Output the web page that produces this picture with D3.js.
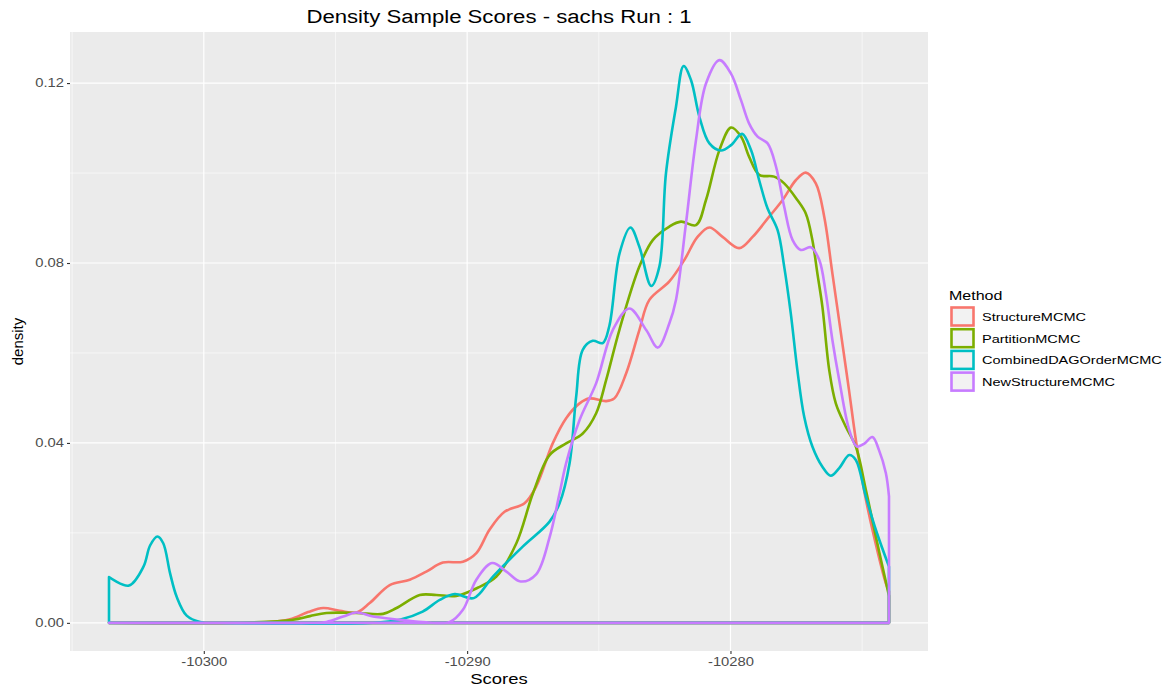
<!DOCTYPE html>
<html>
<head>
<meta charset="utf-8">
<script src="https://cdn.jsdelivr.net/npm/d3@7"></script>
<style>
  body { margin: 0; background: #fff; }
  text { font-family: "Liberation Sans", Arial, sans-serif; }
</style>
</head>
<body>
<div id="chart"></div>
<script>
// Density estimates, [score, density]
const structureMCMC = [
  [-10303.6, 0], [-10299.0, 0], [-10297.74, 0.0001], [-10296.73, 0.0008], [-10296.04, 0.0024],
  [-10295.47, 0.0033], [-10294.84, 0.0027], [-10294.2, 0.0023], [-10293.7, 0.0044], [-10292.94, 0.0084],
  [-10292.18, 0.0096], [-10291.55, 0.0114], [-10290.92, 0.0134], [-10290.16, 0.0136], [-10289.65, 0.0155],
  [-10289.15, 0.0207], [-10288.58, 0.0247], [-10287.82, 0.0266], [-10287.38, 0.0303], [-10286.75, 0.0399],
  [-10286.24, 0.0455], [-10285.73, 0.0488], [-10285.35, 0.0499], [-10284.72, 0.0493], [-10284.41, 0.0499],
  [-10283.96, 0.0555], [-10283.46, 0.0651], [-10283.08, 0.0718], [-10282.32, 0.0759], [-10281.75, 0.0807],
  [-10281.25, 0.0858], [-10280.8, 0.0879], [-10280.3, 0.0858], [-10279.67, 0.0833], [-10279.16, 0.0858],
  [-10278.53, 0.0903], [-10278.02, 0.094], [-10277.52, 0.0984], [-10277.14, 0.1001], [-10276.76, 0.0977],
  [-10276.44, 0.0903], [-10276.13, 0.0777], [-10275.77, 0.0629], [-10275.5, 0.0518], [-10275.24, 0.0407],
  [-10274.93, 0.0296], [-10274.55, 0.0192], [-10274.1, 0.0088], [-10273.98, 0.007]
];

const partitionMCMC = [
  [-10303.6, 0], [-10298.6, 0], [-10296.61, 0.0007], [-10295.97, 0.0015], [-10295.34, 0.0022],
  [-10294.2, 0.0022], [-10293.19, 0.002], [-10292.68, 0.0033], [-10291.8, 0.0062], [-10291.17, 0.0062],
  [-10290.41, 0.006], [-10289.6, 0.0078], [-10288.89, 0.0103], [-10288.13, 0.0177], [-10287.5, 0.0288],
  [-10286.87, 0.0373], [-10286.24, 0.0399], [-10285.61, 0.0421], [-10285.1, 0.0466], [-10284.72, 0.054],
  [-10284.22, 0.0651], [-10283.46, 0.0792], [-10282.95, 0.0851], [-10282.32, 0.0881], [-10281.88, 0.0892],
  [-10281.31, 0.0884], [-10280.93, 0.094], [-10280.42, 0.1051], [-10279.98, 0.1101], [-10279.6, 0.1081],
  [-10279.29, 0.1036], [-10278.91, 0.0996], [-10278.34, 0.0992], [-10277.96, 0.0977], [-10277.46, 0.094],
  [-10277.14, 0.091], [-10276.89, 0.0851], [-10276.7, 0.0777], [-10276.51, 0.0703], [-10276.25, 0.0562],
  [-10276.0, 0.0488], [-10275.62, 0.0436], [-10275.24, 0.0392], [-10274.86, 0.0296], [-10274.48, 0.0192],
  [-10273.98, 0.006]
];

const combinedDAGOrderMCMC = [
  [-10303.6, 0.0102], [-10302.84, 0.0083], [-10302.29, 0.0125], [-10302.04, 0.0172], [-10301.76, 0.0192],
  [-10301.54, 0.0177], [-10301.28, 0.011], [-10301.03, 0.0058], [-10300.65, 0.0016], [-10300.14, 0.0002],
  [-10299.4, 0], [-10293.6, 0],
  [-10292.56, 0.0007], [-10291.69, 0.0025], [-10291.04, 0.0051], [-10290.47, 0.0064], [-10289.75, 0.0055],
  [-10289.02, 0.0103], [-10287.88, 0.017], [-10286.87, 0.0225], [-10286.49, 0.0266], [-10286.11, 0.0355],
  [-10285.86, 0.0503], [-10285.61, 0.0607], [-10285.23, 0.0627], [-10284.85, 0.0622], [-10284.6, 0.066],
  [-10284.21, 0.0822], [-10283.8, 0.0879], [-10283.46, 0.0836], [-10283.01, 0.0749], [-10282.7, 0.0792],
  [-10282.45, 0.0999], [-10282.07, 0.1147], [-10281.78, 0.1238], [-10281.5, 0.1207], [-10281.18, 0.1125],
  [-10280.8, 0.1066], [-10280.36, 0.105], [-10279.98, 0.1062], [-10279.56, 0.1087], [-10279.22, 0.1051],
  [-10278.91, 0.0984], [-10278.59, 0.0921], [-10278.21, 0.0873], [-10277.96, 0.0792], [-10277.71, 0.0688],
  [-10277.46, 0.0562], [-10277.2, 0.0458], [-10276.89, 0.0392], [-10276.51, 0.0347], [-10276.19, 0.0327],
  [-10275.87, 0.0344], [-10275.49, 0.0373], [-10275.24, 0.0362], [-10274.86, 0.0281], [-10274.48, 0.0207],
  [-10273.98, 0.0125]
];

const newStructureMCMC = [
  [-10303.6, 0], [-10295.97, 0], [-10295.34, 0.0002], [-10294.71, 0.0014], [-10294.2, 0.0023],
  [-10293.57, 0.0014], [-10292.56, 0.0007], [-10291.55, 0.0001], [-10290.66, 0.0002], [-10290.16, 0.0029],
  [-10289.65, 0.0096], [-10289.05, 0.0133], [-10288.51, 0.0114], [-10287.97, 0.0092], [-10287.38, 0.0108],
  [-10286.87, 0.019], [-10286.49, 0.0288], [-10286.24, 0.0355], [-10285.73, 0.0451], [-10285.1, 0.0533],
  [-10284.47, 0.0651], [-10283.84, 0.0699], [-10283.2, 0.0651], [-10282.76, 0.0612], [-10282.32, 0.0666],
  [-10282.07, 0.0718], [-10281.69, 0.0888], [-10281.31, 0.1073], [-10280.93, 0.1199], [-10280.42, 0.1251],
  [-10279.98, 0.1221], [-10279.6, 0.1162], [-10279.29, 0.111], [-10278.97, 0.1081], [-10278.59, 0.1066],
  [-10278.27, 0.1014], [-10277.96, 0.0925], [-10277.64, 0.0851], [-10277.33, 0.0829], [-10276.95, 0.0835],
  [-10276.63, 0.0807], [-10276.38, 0.0733], [-10276.13, 0.0629], [-10275.87, 0.054], [-10275.49, 0.0429],
  [-10275.2, 0.0392], [-10274.93, 0.0398], [-10274.61, 0.0413], [-10274.36, 0.0384], [-10274.1, 0.0333],
  [-10273.98, 0.0281]
];

const methods = ["StructureMCMC", "PartitionMCMC", "CombinedDAGOrderMCMC", "NewStructureMCMC"];
const seriesData = [structureMCMC, partitionMCMC, combinedDAGOrderMCMC, newStructureMCMC];
const colors = ["#F8766D", "#7CAE00", "#00BFC4", "#C77CFF"];

const xMajor = [-10300, -10290, -10280];
const xMinor = [-10305, -10295, -10285, -10275];
const yMajor = [0, 0.04, 0.08, 0.12];
const yMinor = [0.02, 0.06, 0.10];

const W = 1174, H = 689;
const margin = { top: 32, right: 246, bottom: 38, left: 70 };
const stretchK = 1.23; // the reference is stretched sideways

function stretch(sel) {
  sel.each(function () {
    const w = this.getComputedTextLength();
    this.setAttribute("textLength", w * stretchK);
    this.setAttribute("lengthAdjust", "spacingAndGlyphs");
  });
}

const svg = d3.select("#chart").append("svg")
    .attr("width", W)
    .attr("height", H);

const all = seriesData.flat();
const xExt = d3.extent(all, d => d[0]);
const yMax = d3.max(all, d => d[1]);
const xPad = (xExt[1] - xExt[0]) * 0.05;
const yPad = yMax * 0.05;

const x = d3.scaleLinear()
    .domain([xExt[0] - xPad, xExt[1] + xPad])
    .range([margin.left, W - margin.right]);
const y = d3.scaleLinear()
    .domain([-yPad, yMax + yPad])
    .range([H - margin.bottom, margin.top]);

// panel
svg.append("rect")
    .attr("x", margin.left)
    .attr("y", margin.top)
    .attr("width", W - margin.left - margin.right)
    .attr("height", H - margin.top - margin.bottom)
    .attr("fill", "#EBEBEB");

const grid = svg.append("g");
grid.selectAll(".vminor").data(xMinor.filter(v => v >= x.domain()[0] && v <= x.domain()[1])).enter().append("line")
    .attr("x1", d => x(d)).attr("x2", d => x(d))
    .attr("y1", margin.top).attr("y2", H - margin.bottom)
    .attr("stroke", "#fff").attr("stroke-width", 0.6);
grid.selectAll(".hminor").data(yMinor).enter().append("line")
    .attr("y1", d => y(d)).attr("y2", d => y(d))
    .attr("x1", margin.left).attr("x2", W - margin.right)
    .attr("stroke", "#fff").attr("stroke-width", 0.6);
grid.selectAll(".vmajor").data(xMajor).enter().append("line")
    .attr("x1", d => x(d)).attr("x2", d => x(d))
    .attr("y1", margin.top).attr("y2", H - margin.bottom)
    .attr("stroke", "#fff").attr("stroke-width", 1.2);
grid.selectAll(".hmajor").data(yMajor).enter().append("line")
    .attr("y1", d => y(d)).attr("y2", d => y(d))
    .attr("x1", margin.left).attr("x2", W - margin.right)
    .attr("stroke", "#fff").attr("stroke-width", 1.2);

// density outlines (full polygon like geom_density)
const area = d3.area()
    .x(d => x(d[0]))
    .y0(y(0))
    .y1(d => Math.min(y(d[1]), y(0)))
    .curve(d3.curveCatmullRom.alpha(0.5));

svg.append("g")
  .selectAll("path")
  .data(seriesData)
  .enter()
  .append("path")
    .attr("d", area)
    .attr("fill", "none")
    .attr("stroke", (d, i) => colors[i])
    .attr("stroke-width", 2.6)
    .attr("stroke-linejoin", "round");

// axes
const xAxis = svg.append("g")
    .attr("transform", `translate(0,${H - margin.bottom})`)
    .call(d3.axisBottom(x).tickValues(xMajor).tickSize(3).tickPadding(2).tickFormat(d => String(d)));
const yAxis = svg.append("g")
    .attr("transform", `translate(${margin.left},0)`)
    .call(d3.axisLeft(y).tickValues(yMajor).tickSize(3).tickPadding(3).tickFormat(d3.format(".2f")));

[xAxis, yAxis].forEach(g => {
  g.select(".domain").remove();
  g.selectAll(".tick line").attr("stroke", "#333333").attr("stroke-width", 1.1);
  g.selectAll(".tick text")
      .attr("fill", "#4D4D4D")
      .style("font-size", "12px")
      .style("font-family", "'Liberation Sans', Arial, sans-serif")
      .call(stretch);
});
xAxis.selectAll(".tick text").attr("dy", "0.85em");

// titles
svg.append("text")
    .attr("x", (margin.left + W - margin.right) / 2)
    .attr("y", 23)
    .attr("text-anchor", "middle")
    .style("font-size", "18px")
    .attr("fill", "#000")
    .text("Density Sample Scores - sachs Run : 1")
    .call(stretch);

svg.append("text")
    .attr("x", (margin.left + W - margin.right) / 2)
    .attr("y", 684)
    .attr("text-anchor", "middle")
    .style("font-size", "15px")
    .attr("fill", "#000")
    .text("Scores")
    .call(stretch);

svg.append("text")
    .attr("transform", `translate(23,${(margin.top + H - margin.bottom) / 2}) rotate(-90)`)
    .attr("text-anchor", "middle")
    .style("font-size", "15px")
    .attr("fill", "#000")
    .text("density");

// legend
const legend = svg.append("g");
legend.append("text")
    .attr("x", 949)
    .attr("y", 300)
    .style("font-size", "13px")
    .attr("fill", "#000")
    .text("Method")
    .call(stretch);

const items = legend.selectAll(".item")
    .data(methods)
    .enter()
    .append("g")
    .attr("transform", (d, i) => `translate(950,${306 + i * 21.7})`);

items.append("rect")
    .attr("x", 1.5).attr("y", 1.5)
    .attr("width", 22).attr("height", 18)
    .attr("fill", "#F2F2F2")
    .attr("stroke", (d, i) => colors[i])
    .attr("stroke-width", 2.6);

items.append("text")
    .attr("x", 32)
    .attr("y", 15)
    .style("font-size", "11.8px")
    .attr("fill", "#000")
    .text(d => d)
    .call(stretch);
</script>
</body>
</html>
